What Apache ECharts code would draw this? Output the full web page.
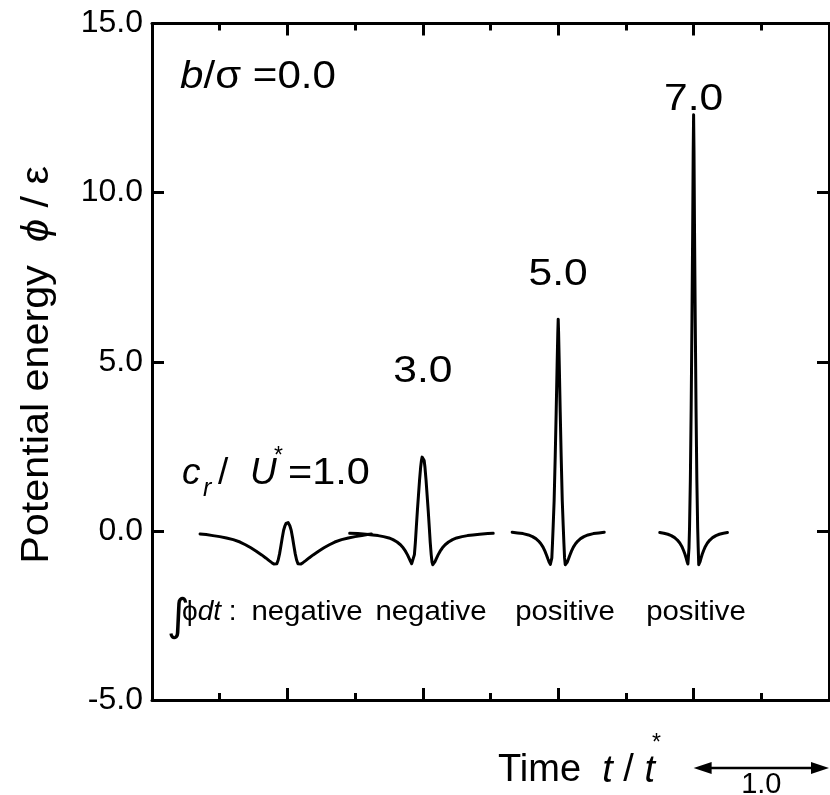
<!DOCTYPE html>
<html><head><meta charset="utf-8">
<script src="https://cdn.jsdelivr.net/npm/echarts@6/dist/echarts.min.js"></script>
<style>html,body{margin:0;padding:0;background:#fff}#c{width:830px;height:795px}</style>
</head><body><div id="c"></div>
<script>
const FONT = '"Liberation Sans", Arial, Helvetica, sans-serif';

// axis ranges / ticks
const xMin = 0, xMax = 5, xInterval = 1;
const yMin = -5, yMax = 15, yInterval = 5;

// c_r/U* = 1.0
const t1 = [0.355,0.40,0.45,0.50,0.55,0.60,0.65,0.69,0.73,0.77,0.81,0.84,0.865,0.885,0.9,0.912,0.922,0.932,0.942,0.952,0.962,0.972,0.982,0.99,0.995,1.0,
            1.005,1.01,1.018,1.028,1.038,1.048,1.058,1.068,1.078,1.088,1.1,1.115,1.135,1.16,1.19,1.23,1.27,1.31,1.35,1.40,1.45,1.50,1.55,1.59,1.62];
const phi1 = [-0.09,-0.11,-0.14,-0.17,-0.21,-0.26,-0.33,-0.41,-0.5,-0.6,-0.71,-0.8,-0.88,-0.94,-0.98,-1.0,-0.97,-0.86,-0.68,-0.45,-0.2,0.02,0.15,0.22,0.245,0.25,
              0.245,0.22,0.15,0.02,-0.2,-0.45,-0.68,-0.86,-0.97,-1.0,-0.98,-0.94,-0.88,-0.8,-0.71,-0.6,-0.5,-0.41,-0.33,-0.26,-0.21,-0.17,-0.14,-0.11,-0.09];
// c_r/U* = 3.0
const t2 = [1.46,1.52,1.58,1.63,1.67,1.71,1.75,1.78,1.81,1.835,1.855,1.872,1.887,1.9,1.91,1.918,1.926,1.932,1.938,1.945,1.952,1.96,1.968,1.976,1.984,1.99,1.995,2.0,
            2.005,2.01,2.016,2.024,2.032,2.04,2.048,2.055,2.062,2.068,2.074,2.082,2.09,2.1,2.113,2.128,2.145,2.165,2.19,2.22,2.25,2.29,2.33,2.37,2.42,2.48,2.52];
const phi2 = [-0.07,-0.08,-0.1,-0.12,-0.14,-0.17,-0.21,-0.26,-0.33,-0.41,-0.5,-0.6,-0.71,-0.82,-0.91,-0.97,-1.0,-0.92,-0.7,-0.35,0.1,0.6,1.05,1.5,1.88,2.08,2.18,2.22,
              2.18,2.08,1.88,1.5,1.05,0.6,0.1,-0.35,-0.7,-0.92,-1.0,-0.97,-0.91,-0.82,-0.71,-0.6,-0.5,-0.41,-0.33,-0.26,-0.21,-0.17,-0.14,-0.12,-0.1,-0.08,-0.07];
// c_r/U* = 5.0
const t3 = [2.66,2.70,2.74,2.78,2.81,2.835,2.855,2.872,2.888,2.902,2.914,2.925,2.934,2.942,2.948,2.953,2.958,2.963,2.97,2.978,2.985,2.992,2.997,3.0,
            3.003,3.008,3.015,3.022,3.03,3.037,3.042,3.047,3.052,3.058,3.066,3.075,3.086,3.098,3.112,3.128,3.145,3.165,3.19,3.22,3.26,3.30,3.34];
const phi3 = [-0.04,-0.06,-0.08,-0.12,-0.17,-0.23,-0.3,-0.38,-0.48,-0.6,-0.72,-0.84,-0.93,-0.99,-1.0,-0.8,-0.35,0.15,0.9,2.2,3.5,4.9,5.85,6.26,
              5.85,4.9,3.5,2.2,0.9,0.15,-0.35,-0.8,-1.0,-0.99,-0.93,-0.84,-0.72,-0.6,-0.48,-0.38,-0.3,-0.23,-0.17,-0.12,-0.08,-0.06,-0.04];
// c_r/U* = 7.0
const t4 = [3.75,3.78,3.81,3.835,3.86,3.88,3.898,3.913,3.926,3.937,3.946,3.953,3.958,3.962,3.966,3.97,3.976,3.982,3.988,3.993,3.997,4.0,
            4.003,4.007,4.012,4.018,4.024,4.03,4.034,4.038,4.042,4.047,4.054,4.063,4.074,4.087,4.102,4.12,4.14,4.165,4.19,4.22,4.25];
const phi4 = [-0.05,-0.07,-0.1,-0.14,-0.2,-0.27,-0.36,-0.46,-0.58,-0.7,-0.82,-0.92,-0.98,-1.0,-0.5,0.1,1.5,3.6,6.3,8.8,11.2,12.3,
              11.2,8.8,6.3,3.6,1.5,0.1,-0.5,-1.0,-0.98,-0.92,-0.82,-0.7,-0.58,-0.46,-0.36,-0.27,-0.2,-0.14,-0.1,-0.07,-0.05];

// annotation texts
const peakLabels = ['3.0','5.0','7.0'];
const peakLabelPos = [[2,4.7],[3,7.57],[4,12.75]];
const integralWords = ['negative','negative','positive','positive'];
const integralX = [307,431,565,696];

function zip(a,b){return a.map((v,i)=>[v,b[i]]);}
const lineSeries = [[t1,phi1],[t2,phi2],[t3,phi3],[t4,phi4]].map(([t,p])=>({
  type:'line', data: zip(t,p), symbol:'none', showSymbol:false, smooth:false,
  lineStyle:{color:'#000', width:3, join:'round', cap:'round'}, animation:false, silent:true
}));

const chart = echarts.init(document.getElementById('c'), null, {renderer:'canvas'});
const axisLine = {show:true, onZero:false, lineStyle:{color:'#000', width:3}};
const xCommon = {type:'value', min:xMin, max:xMax, interval:xInterval, axisLine,
  axisTick:{show:true, inside:true, length:12, lineStyle:{color:'#000', width:3}},
  minorTick:{show:true, splitNumber:2, length:7, lineStyle:{color:'#000', width:3}},
  axisLabel:{show:false}, splitLine:{show:false}, minorSplitLine:{show:false}};
const yCommon = {type:'value', min:yMin, max:yMax, interval:yInterval, axisLine,
  axisTick:{show:true, inside:true, length:12, lineStyle:{color:'#000', width:3}},
  splitLine:{show:false}};

chart.setOption({
  animation:false,
  backgroundColor:'#fff',
  grid:{left:152, right:1, top:23.5, bottom:95, containLabel:false},
  xAxis:[Object.assign({position:'bottom'}, xCommon), Object.assign({position:'top'}, xCommon)],
  yAxis:[Object.assign({position:'left', axisLabel:{show:true, color:'#000', fontFamily:FONT, fontSize:32, margin:9, formatter:v=>v.toFixed(1)}}, yCommon),
         Object.assign({position:'right', axisLabel:{show:false}}, yCommon)],
  series: lineSeries
});

const px = (x,y)=>chart.convertToPixel({xAxisIndex:0,yAxisIndex:0},[x,y]);
const g = [];
// b/σ =0.0
g.push({type:'text', x:180, y:77, scaleX:1.08, style:{text:'{i|b}{n|/σ =0.0}', fill:'#000', textVerticalAlign:'middle',
  rich:{i:{fontFamily:FONT, fontSize:39, fontStyle:'italic', fill:'#000'}, n:{fontFamily:FONT, fontSize:39, fill:'#000'}}}});
// peak labels
peakLabels.forEach((s,i)=>{
  const p = px(peakLabelPos[i][0], peakLabelPos[i][1]);
  g.push({type:'text', x:p[0], y:p[1], scaleX:1.15, style:{text:s, fill:'#000', font:'37px '+FONT, textAlign:'center', textVerticalAlign:'middle'}});
});
// c_r / U* = 1.0
g.push({type:'text', x:182, y:492, style:{text:'c', fill:'#000', font:'italic 37px '+FONT, textAlign:'left', textVerticalAlign:'bottom'}});
g.push({type:'text', x:203, y:502, style:{text:'r', fill:'#000', font:'italic 25px '+FONT, textAlign:'left', textVerticalAlign:'bottom'}});
g.push({type:'text', x:218, y:492, style:{text:'/', fill:'#000', font:'37px '+FONT, textAlign:'left', textVerticalAlign:'bottom'}});
g.push({type:'text', x:250, y:492, style:{text:'U', fill:'#000', font:'italic 37px '+FONT, textAlign:'left', textVerticalAlign:'bottom'}});
g.push({type:'text', x:274, y:468, style:{text:'*', fill:'#000', font:'23px '+FONT, textAlign:'left', textVerticalAlign:'bottom'}});
g.push({type:'text', x:288, y:492, scaleX:1.12, style:{text:'=1.0', fill:'#000', font:'37px '+FONT, textAlign:'left', textVerticalAlign:'bottom'}});
// integral row
g.push({type:'text', x:167, y:619, style:{text:'∫', fill:'#000', font:'44px "DejaVu Sans"', textAlign:'left', textVerticalAlign:'middle'}});
g.push({type:'text', x:182, y:612, style:{text:'{n|ϕ}{i|dt}{n| :}', fill:'#000', textVerticalAlign:'middle',
  rich:{i:{fontFamily:FONT, fontSize:28, fontStyle:'italic', fill:'#000'}, n:{fontFamily:FONT, fontSize:28, fill:'#000'}}}});
integralWords.forEach((w,i)=>{
  g.push({type:'text', x:integralX[i], y:612, scaleX:1.05, style:{text:w, fill:'#000', font:'28px '+FONT, textAlign:'center', textVerticalAlign:'middle'}});
});
// y axis title
g.push({type:'text', x:37, y:365, rotation:Math.PI/2, scaleX:1.06, style:{text:'{n|Potential energy  }{i|ϕ}{n| / ε}', fill:'#000', textAlign:'center', textVerticalAlign:'middle',
  rich:{i:{fontFamily:FONT, fontSize:39, fontStyle:'italic', fill:'#000'}, n:{fontFamily:FONT, fontSize:39, fill:'#000'}}}});
// x axis title
g.push({type:'text', x:498, y:771, style:{text:'{n|Time  }{i|t}{n| / }{i|t}', fill:'#000', textVerticalAlign:'middle',
  rich:{i:{fontFamily:FONT, fontSize:38, fontStyle:'italic', fill:'#000'}, n:{fontFamily:FONT, fontSize:38, fill:'#000'}}}});
g.push({type:'text', x:652, y:744, style:{text:'*', fill:'#000', font:'23px '+FONT, textAlign:'left', textVerticalAlign:'middle'}});
// scale arrow 1.0 (from t=4 to t=5)
const a0 = px(4,0)[0], a1 = px(5,0)[0], ay = 768;
g.push({type:'line', shape:{x1:a0+12, y1:ay, x2:a1-12, y2:ay}, style:{stroke:'#000', lineWidth:2.5}});
g.push({type:'polygon', shape:{points:[[a0,ay],[a0+18,ay-6],[a0+18,ay+6]]}, style:{fill:'#000'}});
g.push({type:'polygon', shape:{points:[[a1,ay],[a1-18,ay-6],[a1-18,ay+6]]}, style:{fill:'#000'}});
g.push({type:'text', x:(a0+a1)/2, y:785, style:{text:'1.0', fill:'#000', font:'29px '+FONT, textAlign:'center', textVerticalAlign:'middle'}});

chart.setOption({graphic:g});
</script>
</body></html>
